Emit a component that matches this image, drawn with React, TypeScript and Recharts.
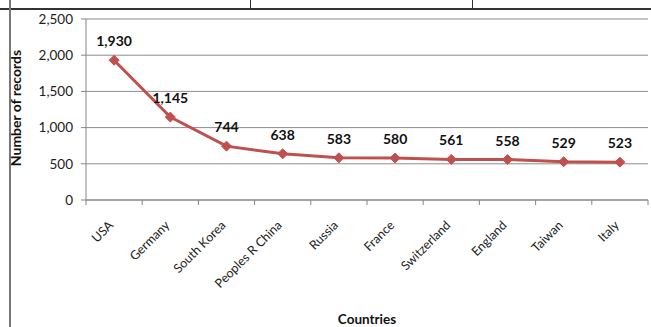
import React from "react";
import {
    LineChart,
    Line,
    XAxis,
    YAxis,
    CartesianGrid,
    LabelList,
} from "recharts";

const countries = [
    "USA",
    "Germany",
    "South Korea",
    "Peoples R China",
    "Russia",
    "France",
    "Switzerland",
    "England",
    "Taiwan",
    "Italy",
];
const records = [1930, 1145, 744, 638, 583, 580, 561, 558, 529, 523];
const yTicks = [0, 500, 1000, 1500, 2000, 2500];

const data = countries.map((name, i) => ({ name, records: records[i] }));

const FONT = "Lato, 'Open Sans', sans-serif";
const LINE_RED = "#c0504d";

const fmt = (v: number) => v.toLocaleString("en-US");

// excel style: rotated label, tick marks sit between categories
const CountryTick = (props: any) => {
    const { x, y, payload, index } = props;
    const half = payload && payload.offset ? payload.offset : 28;
    const last = index === countries.length - 1;
    const ax = y - 8; // axis line
    return (
        <g>
            <line x1={x - half} y1={ax} x2={x - half} y2={ax + 5} stroke="#868686" />
            {last && <line x1={x + half} y1={ax} x2={x + half} y2={ax + 5} stroke="#868686" />}
            <text
                x={x}
                y={y + 18}
                transform={`rotate(-45, ${x}, ${y + 18})`}
                textAnchor="end"
                fontSize={12.5}
                fontFamily={FONT}
                fill="#222"
            >
                {payload.value}
            </text>
        </g>
    );
};

const Diamond = (props: any) => {
    const { cx, cy } = props;
    if (cx == null || cy == null) return null;
    const r = 5;
    return (
        <path
            d={`M${cx},${cy - r} L${cx + r},${cy} L${cx},${cy + r} L${cx - r},${cy} Z`}
            fill={LINE_RED}
            stroke={LINE_RED}
        />
    );
};

export default function App() {
    return (
        <div style={{ position: "fixed", left: 0, top: 0, width: 651, height: 327, background: "#fff" }}>
            {/* frame bits from the surrounding document */}
            <div style={{ position: "absolute", left: 0, top: 8, width: 651, height: 2, background: "#333" }} />
            <div style={{ position: "absolute", left: 9, top: 0, width: 2, height: 327, background: "#777" }} />
            <div style={{ position: "absolute", left: 250, top: 0, width: 1, height: 9, background: "#333" }} />
            <div style={{ position: "absolute", left: 472, top: 0, width: 1, height: 9, background: "#333" }} />

            <div style={{ position: "absolute", left: 0, top: 0 }}>
                <LineChart
                    width={651}
                    height={327}
                    data={data}
                    margin={{ top: 19, right: 3, left: 0, bottom: 0 }}
                >
                    <CartesianGrid vertical={false} stroke="#8c8c8c" />
                    <XAxis
                        dataKey="name"
                        scale="band"
                        interval={0}
                        axisLine={{ stroke: "#868686" }}
                        tickLine={false}
                        tick={<CountryTick />}
                        height={127}
                    />
                    <YAxis
                        width={86}
                        domain={[0, 2500]}
                        ticks={yTicks}
                        tickFormatter={fmt}
                        axisLine={{ stroke: "#868686" }}
                        tickLine={{ stroke: "#868686" }}
                        tickSize={5}
                        tickMargin={8}
                        tick={{ fontSize: 13.5, fontFamily: FONT, fill: "#222" }}
                    />
                    <Line
                        type="linear"
                        dataKey="records"
                        stroke={LINE_RED}
                        strokeWidth={3}
                        dot={<Diamond />}
                        isAnimationActive={false}
                    >
                        <LabelList
                            dataKey="records"
                            position="top"
                            offset={14}
                            formatter={(v: any) => fmt(Number(v))}
                            style={{ fontSize: 14, fontWeight: 700, fontFamily: FONT, fill: "#111" }}
                        />
                    </Line>
                </LineChart>
            </div>

            <div
                style={{
                    position: "absolute",
                    left: 15,
                    top: 108,
                    transform: "translate(-50%, -50%) rotate(-90deg)",
                    whiteSpace: "nowrap",
                    fontFamily: FONT,
                    fontWeight: 700,
                    fontSize: 14,
                    color: "#111",
                }}
            >
                Number of records
            </div>
            <div
                style={{
                    position: "absolute",
                    left: 367,
                    top: 319,
                    transform: "translate(-50%, -50%)",
                    whiteSpace: "nowrap",
                    fontFamily: FONT,
                    fontWeight: 700,
                    fontSize: 13.5,
                    color: "#111",
                }}
            >
                Countries
            </div>
        </div>
    );
}
